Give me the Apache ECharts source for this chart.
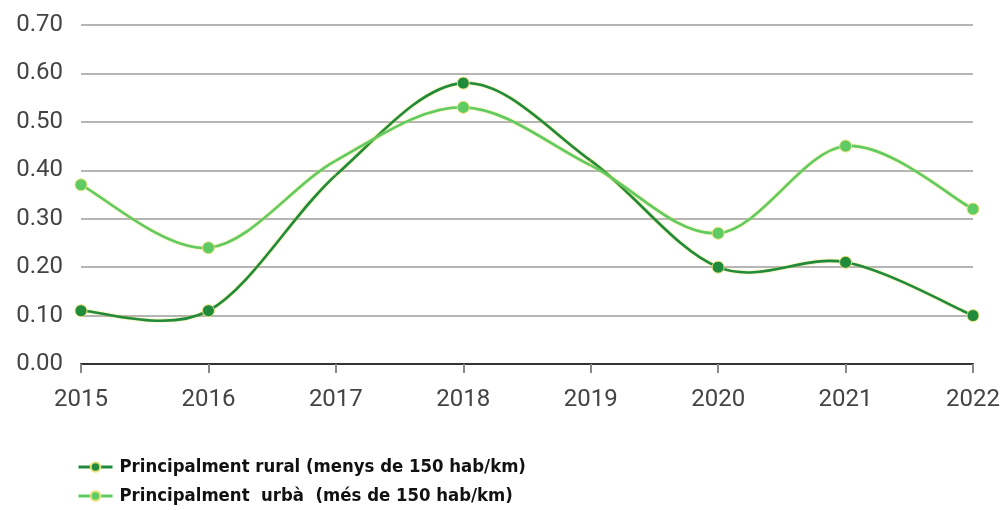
<!DOCTYPE html>
<html>
<head>
<meta charset="utf-8">
<script src="https://cdn.jsdelivr.net/npm/echarts@6/dist/echarts.min.js"></script>
<style>
  html, body { margin: 0; padding: 0; background: #fff; }
  #chart { width: 1003px; height: 510px; }
</style>
</head>
<body>
<div id="chart"></div>
<script>
var years = ['2015', '2016', '2017', '2018', '2019', '2020', '2021', '2022'];
var rural = [0.11, 0.11, 0.39, 0.58, 0.42, 0.20, 0.21, 0.10];
var urba = [0.37, 0.24, 0.42, 0.53, 0.41, 0.27, 0.45, 0.32];
var yTicks = ['0.00', '0.10', '0.20', '0.30', '0.40', '0.50', '0.60', '0.70'];
var names = ['Principalment rural (menys de 150 hab/km)', 'Principalment  urbà  (més de 150 hab/km)'];
// years drawn without a marker
var noMarker = ['2017', '2019'];

var DARK = '#208a3d';
var LIGHT = '#5fcb64';

function points(values) {
  return values.map(function (v, i) {
    if (noMarker.indexOf(years[i]) >= 0) {
      return { value: v, symbolSize: 0 };
    }
    return v;
  });
}

// Catmull-Rom style curve, one bezier per segment, placed with api.coord
function spline(values, color) {
  return {
    type: 'custom',
    z: 1,
    data: values.map(function (v, i) { return [i, v]; }),
    renderItem: function (params, api) {
      var i = params.dataIndex;
      if (i >= values.length - 1) return null;
      var p = function (j) {
        j = Math.max(0, Math.min(values.length - 1, j));
        return api.coord([j, values[j]]);
      };
      var p0 = p(i - 1), p1 = p(i), p2 = p(i + 1), p3 = p(i + 2);
      return {
        type: 'bezierCurve',
        shape: {
          x1: p1[0], y1: p1[1],
          cpx1: p1[0] + (p2[0] - p0[0]) / 6, cpy1: p1[1] + (p2[1] - p0[1]) / 6,
          cpx2: p2[0] - (p3[0] - p1[0]) / 6, cpy2: p2[1] - (p3[1] - p1[1]) / 6,
          x2: p2[0], y2: p2[1]
        },
        style: {
          stroke: color, lineWidth: 2.6, fill: null,
          shadowColor: 'rgba(225,215,60,0.8)', shadowBlur: 2
        }
      };
    }
  };
}

function markers(name, values, color) {
  return {
    name: name,
    type: 'line',
    z: 3,
    data: points(values),
    symbol: 'circle',
    symbolSize: 12,
    color: color,
    lineStyle: { opacity: 0, color: color },
    itemStyle: { color: color, borderColor: '#e9e07a', borderWidth: 1 }
  };
}

var chart = echarts.init(document.getElementById('chart'));
var option = {
  animation: false,
  grid: { left: 81, right: 30, top: 25, bottom: 146 },
  legend: {
    data: names,
    orient: 'vertical',
    left: 72,
    top: 453,
    itemWidth: 34,
    itemHeight: 12,
    itemGap: 11,
    lineStyle: { opacity: 1, width: 3 },
    textStyle: {
      fontFamily: 'DejaVu Sans Condensed',
      fontWeight: 'bold',
      fontSize: 18.4,
      color: '#111',
      padding: [0, 0, 0, 2]
    }
  },
  xAxis: {
    type: 'category',
    data: years,
    boundaryGap: false,
    axisLine: { lineStyle: { color: '#333', width: 2 } },
    axisTick: { length: 9, lineStyle: { color: '#888', width: 2 } },
    axisLabel: { fontSize: 24, color: '#444', margin: 24, fontFamily: 'Roboto' }
  },
  yAxis: {
    type: 'value',
    min: 0,
    max: 0.7,
    interval: 0.1,
    axisLine: { show: false },
    axisTick: { show: false },
    splitLine: { lineStyle: { color: '#b5b5b5', width: 2 } },
    axisLabel: {
      fontSize: 24,
      color: '#444',
      margin: 18,
      fontFamily: 'Roboto',
      formatter: function (v) { return yTicks[Math.round(v * 10)]; }
    }
  },
  series: [
    spline(rural, DARK),
    spline(urba, LIGHT),
    markers(names[0], rural, DARK),
    markers(names[1], urba, LIGHT)
  ]
};
chart.setOption(option);
</script>
</body>
</html>
